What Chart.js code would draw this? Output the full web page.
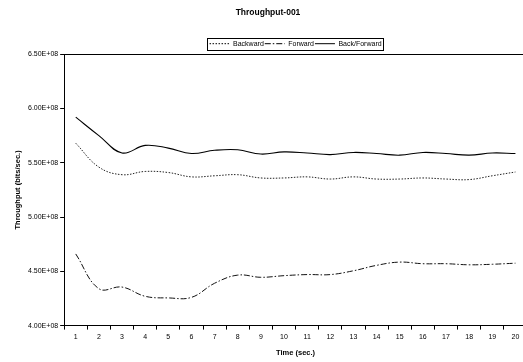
<!DOCTYPE html>
<html>
<head>
<meta charset="utf-8">
<script src="https://cdn.jsdelivr.net/npm/chart.js@4/dist/chart.umd.min.js"></script>
<style>
  html, body { margin: 0; padding: 0; background: #fff; overflow: hidden; }
  #wrap { width: 523px; height: 362px; overflow: hidden; }
  canvas { display: block; }
</style>
</head>
<body>
<div id="wrap"><canvas id="chart" width="540" height="362"></canvas></div>
<script>
var seconds = ['1', '2', '3', '4', '5', '6', '7', '8', '9', '10',
               '11', '12', '13', '14', '15', '16', '17', '18', '19', '20'];

// throughput in 1e8 bits/sec
var backward = [5.68, 5.46, 5.39, 5.42, 5.41, 5.37, 5.38, 5.39, 5.36, 5.36,
                5.37, 5.35, 5.37, 5.35, 5.35, 5.36, 5.35, 5.345, 5.38, 5.415];
var forward = [4.66, 4.34, 4.355, 4.27, 4.255, 4.26, 4.39, 4.465, 4.445, 4.46,
               4.47, 4.47, 4.505, 4.555, 4.585, 4.57, 4.57, 4.56, 4.565, 4.575];
var backForward = [5.92, 5.75, 5.59, 5.66, 5.635, 5.585, 5.615, 5.62, 5.58, 5.60,
                   5.59, 5.575, 5.595, 5.585, 5.57, 5.595, 5.585, 5.57, 5.59, 5.585];

var yTicks = [4.0e8, 4.5e8, 5.0e8, 5.5e8, 6.0e8, 6.5e8];

function scale(arr) {
    return arr.map(function(v) { return Math.round(v * 1e8 * 1000) / 1000; });
}

function sci(v) {
    var s = Number(v).toExponential(2).toUpperCase();
    var parts = s.split('E');
    var exp = parseInt(parts[1], 10);
    var sign = exp < 0 ? '-' : '+';
    exp = Math.abs(exp);
    return parts[0] + 'E' + sign + (exp < 10 ? '0' + exp : exp);
}

Chart.defaults.font.family = '"Liberation Sans", Arial, sans-serif';
Chart.defaults.color = '#000';

var LEGEND_DROP = 3;

// legend sits over the plot centre (a bit lower) and gets a thin frame
var legendFrame = {
    id: 'legendFrame',
    afterLayout: function(chart) {
        var lg = chart.legend;
        var shift = (chart.chartArea.left + chart.chartArea.right) / 2 - (lg.left + lg.right) / 2;
        lg.left += shift;
        lg.right += shift;
        lg.top += LEGEND_DROP;
        lg.bottom += LEGEND_DROP;
    },
    afterDraw: function(chart) {
        var lg = chart.legend;
        var w = lg.lineWidths[0];
        var cx = (lg.left + lg.right) / 2;
        var hb = lg.legendHitBoxes[0];
        var midY = hb.top + hb.height / 2;
        var ctx = chart.ctx;
        ctx.save();
        ctx.strokeStyle = '#000';
        ctx.lineWidth = 1;
        ctx.setLineDash([]);
        ctx.strokeRect(Math.round(cx - w / 2 - 2) + 0.5, Math.round(midY - 6) + 0.5,
                       Math.round(w + 3), 12);
        ctx.restore();
    }
};

var ctx = document.getElementById('chart');

var myChart = new Chart(ctx, {
    type: 'line',
    data: {
        labels: seconds,
        datasets: [{
            label: 'Backward',
            data: scale(backward),
            borderColor: '#222',
            borderWidth: 1,
            borderDash: [1.5, 1.5],
            pointRadius: 0,
            tension: 0.4
        }, {
            label: 'Forward',
            data: scale(forward),
            borderColor: '#111',
            borderWidth: 1,
            borderDash: [6, 2, 1.5, 2],
            pointRadius: 0,
            tension: 0.4
        }, {
            label: 'Back/Forward',
            data: scale(backForward),
            borderColor: '#000',
            borderWidth: 1.1,
            pointRadius: 0,
            tension: 0.4
        }]
    },
    options: {
        responsive: false,
        animation: false,
        devicePixelRatio: 1,
        layout: { padding: { left: 9, right: 13, top: 0, bottom: 3 } },
        plugins: {
            tooltip: { enabled: false },
            title: {
                display: true,
                text: 'Throughput-001',
                font: { size: 8.5, weight: 'bold' },
                padding: { top: 8, bottom: 18 }
            },
            legend: {
                display: true,
                position: 'top',
                labels: {
                    usePointStyle: true,
                    pointStyle: 'line',
                    pointStyleWidth: 20,
                    boxHeight: 7,
                    padding: 1,
                    font: { size: 7 },
                    color: '#000',
                    generateLabels: function(chart) {
                        var items = Chart.defaults.plugins.legend.labels.generateLabels(chart);
                        items.forEach(function(it) {
                            var ds = chart.data.datasets[it.datasetIndex];
                            it.lineDash = ds.borderDash || [];
                            it.lineWidth = 1;
                            it.strokeStyle = '#000';
                        });
                        return items;
                    }
                }
            }
        },
        scales: {
            x: {
                offset: true,
                grid: {
                    offset: true,
                    drawOnChartArea: false,
                    tickLength: 4,
                    tickColor: '#000'
                },
                border: { color: '#000', width: 1 },
                ticks: {
                    font: { size: 7 },
                    padding: 3,
                    maxRotation: 0,
                    autoSkip: false
                },
                title: {
                    display: true,
                    text: 'Time (sec.)',
                    font: { size: 7.5, weight: 'bold' },
                    padding: { top: 4, bottom: 2 }
                }
            },
            y: {
                min: yTicks[0],
                max: yTicks[yTicks.length - 1],
                afterBuildTicks: function(axis) {
                    axis.ticks = yTicks.map(function(v) { return { value: v }; });
                },
                grid: {
                    color: function(c) {
                        return c.tick && c.tick.value === yTicks[yTicks.length - 1] ? '#000' : 'rgba(0,0,0,0)';
                    },
                    tickColor: '#000',
                    tickLength: 4
                },
                border: { color: '#000', width: 1 },
                ticks: {
                    font: { size: 7 },
                    padding: 2,
                    callback: function(v) { return sci(v); }
                },
                title: {
                    display: true,
                    text: 'Throughput (bits/sec.)',
                    font: { size: 7.5, weight: 'bold' },
                    padding: { top: 4, bottom: 4 }
                }
            }
        }
    },
    plugins: [legendFrame]
});
</script>
</body>
</html>
